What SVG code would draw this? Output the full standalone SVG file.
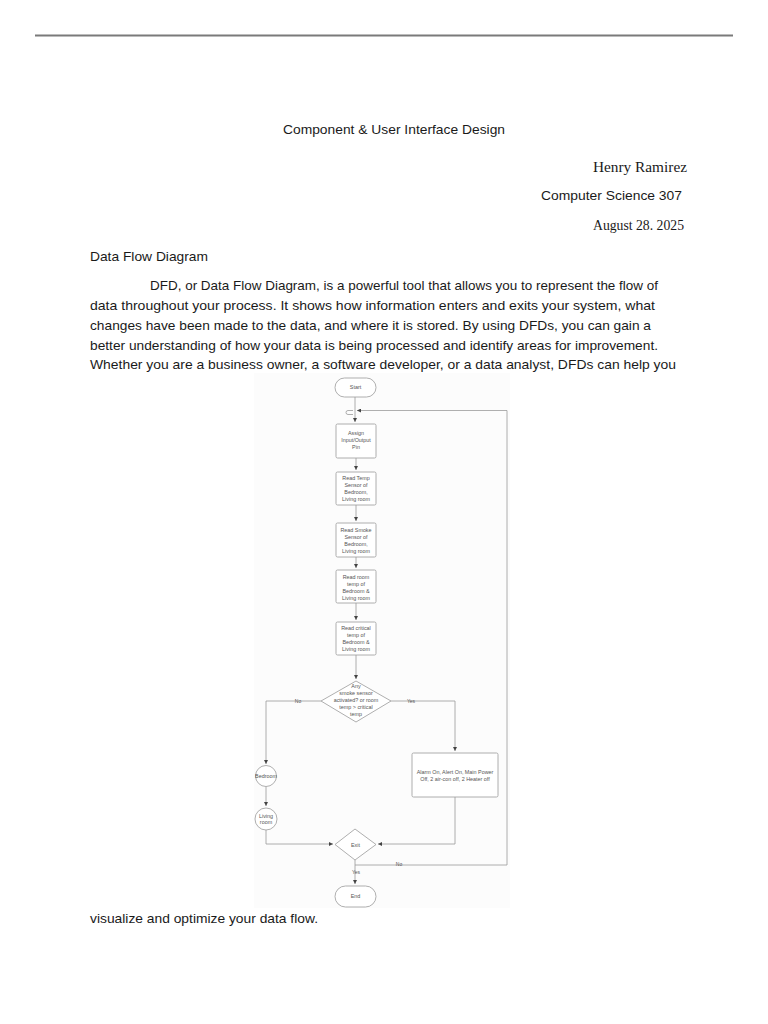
<svg xmlns="http://www.w3.org/2000/svg" width="768" height="1024" viewBox="0 0 768 1024">
<style>
.sans{font-family:"Liberation Sans",Arial,sans-serif;fill:#1a1a1a}
.serif{font-family:"Liberation Serif","Times New Roman",serif;fill:#1a1a1a}
.b{font-size:13.5px}
.node{fill:#fff;stroke:#9a9a9a;stroke-width:0.8}
.nt{font-family:"Liberation Sans",Arial,sans-serif;font-size:5.4px;fill:#555;text-anchor:middle}
.lbl{font-family:"Liberation Sans",Arial,sans-serif;font-size:5px;fill:#555;text-anchor:middle}
.con{fill:none;stroke:#9a9a9a;stroke-width:0.8}
</style>
<defs>
<marker id="ah" viewBox="0 0 6 6" refX="6" refY="3" markerWidth="4" markerHeight="4" markerUnits="userSpaceOnUse" orient="auto">
<path d="M0,0 L6,3 L0,6 Z" fill="#444"/>
</marker>
</defs>
<rect width="768" height="1024" fill="#fff"/>
<line x1="35" y1="35.5" x2="733" y2="35.5" stroke="#7a7a7a" stroke-width="2"/>
<text class="sans b" x="283" y="134" textLength="222" lengthAdjust="spacingAndGlyphs">Component &amp; User Interface Design</text>
<text class="serif" font-size="14.5" x="593" y="172" textLength="94" lengthAdjust="spacingAndGlyphs">Henry Ramirez</text>
<text class="sans b" x="541" y="200" textLength="141" lengthAdjust="spacingAndGlyphs">Computer Science 307</text>
<text class="serif" font-size="14.5" x="593" y="230" textLength="91" lengthAdjust="spacingAndGlyphs">August 28. 2025</text>
<text class="sans b" x="90" y="261" textLength="118" lengthAdjust="spacingAndGlyphs">Data Flow Diagram</text>
<text class="sans b" x="150" y="290" textLength="508" lengthAdjust="spacingAndGlyphs">DFD, or Data Flow Diagram, is a powerful tool that allows you to represent the flow of</text>
<text class="sans b" x="90" y="310" textLength="565" lengthAdjust="spacingAndGlyphs">data throughout your process. It shows how information enters and exits your system, what</text>
<text class="sans b" x="90" y="330" textLength="561" lengthAdjust="spacingAndGlyphs">changes have been made to the data, and where it is stored. By using DFDs, you can gain a</text>
<text class="sans b" x="90" y="350" textLength="568" lengthAdjust="spacingAndGlyphs">better understanding of how your data is being processed and identify areas for improvement.</text>
<text class="sans b" x="90" y="369" textLength="586" lengthAdjust="spacingAndGlyphs">Whether you are a business owner, a software developer, or a data analyst, DFDs can help you</text>
<text class="sans b" x="90" y="923" textLength="228" lengthAdjust="spacingAndGlyphs">visualize and optimize your data flow.</text>

<rect x="254" y="373" width="256" height="535" fill="#fcfcfc"/>

<g id="connectors">
<path class="con" d="M355,397 V422" marker-end="url(#ah)"/>
<path class="con" d="M507,410.5 H357" marker-end="url(#ah)"/>
<path class="con" d="M353,410.5 H348 A2,2 0 0 0 348,414.5 H353"/>
<path class="con" d="M507,410.5 V865 H355"/>
<path class="con" d="M356,458 V470" marker-end="url(#ah)"/>
<path class="con" d="M356,505 V521" marker-end="url(#ah)"/>
<path class="con" d="M356,557 V568" marker-end="url(#ah)"/>
<path class="con" d="M356,603 V620" marker-end="url(#ah)"/>
<path class="con" d="M356,655 V679" marker-end="url(#ah)"/>
<path class="con" d="M321,701 H266 V764" marker-end="url(#ah)"/>
<path class="con" d="M391,701 H455 V751" marker-end="url(#ah)"/>
<path class="con" d="M266,786.5 V806" marker-end="url(#ah)"/>
<path class="con" d="M266,830 V844 H333" marker-end="url(#ah)"/>
<path class="con" d="M455,797 V844 H378" marker-end="url(#ah)"/>
<path class="con" d="M355,860 V884" marker-end="url(#ah)"/>
<text class="lbl" x="298" y="702.5">No</text>
<text class="lbl" x="411" y="702.5">Yes</text>
<text class="lbl" x="399" y="866">No</text>
<text class="lbl" x="356" y="873.5">Yes</text>
</g>

<g id="start">
<rect class="node" x="335" y="378" width="41" height="19" rx="9.5"/>
<text class="nt" x="355.5" y="389">Start</text>
</g>
<g id="assign">
<rect class="node" x="336" y="424" width="40" height="34" rx="1.5"/>
<text class="nt" x="356" y="435">Assign</text>
<text class="nt" x="356" y="442">Input/Output</text>
<text class="nt" x="356" y="449">Pin</text>
</g>
<g id="readTemp">
<rect class="node" x="336" y="472" width="40" height="33" rx="1.5"/>
<text class="nt" x="356" y="480">Read Temp</text>
<text class="nt" x="356" y="487">Sensor of</text>
<text class="nt" x="356" y="494">Bedroom,</text>
<text class="nt" x="356" y="501">Living room</text>
</g>
<g id="readSmoke">
<rect class="node" x="336" y="523" width="40" height="34" rx="1.5"/>
<text class="nt" x="356" y="532">Read Smoke</text>
<text class="nt" x="356" y="539">Sensor of</text>
<text class="nt" x="356" y="546">Bedroom,</text>
<text class="nt" x="356" y="553">Living room</text>
</g>
<g id="readRoom">
<rect class="node" x="336" y="570" width="40" height="33" rx="1.5"/>
<text class="nt" x="356" y="578.5">Read room</text>
<text class="nt" x="356" y="585.5">temp of</text>
<text class="nt" x="356" y="592.5">Bedroom &amp;</text>
<text class="nt" x="356" y="599.5">Living room</text>
</g>
<g id="readCritical">
<rect class="node" x="336" y="622" width="40" height="33" rx="1.5"/>
<text class="nt" x="356" y="630">Read critical</text>
<text class="nt" x="356" y="637">temp of</text>
<text class="nt" x="356" y="644">Bedroom &amp;</text>
<text class="nt" x="356" y="651">Living room</text>
</g>
<g id="decision">
<polygon class="node" points="356,681 391,701 356,722 321,701"/>
<text class="nt" x="356" y="688">Any</text>
<text class="nt" x="356" y="695">smoke sensor</text>
<text class="nt" x="356" y="702">activated? or room</text>
<text class="nt" x="356" y="709">temp &gt; critical</text>
<text class="nt" x="356" y="716">temp</text>
</g>
<g id="alarm">
<rect class="node" x="412" y="753" width="86" height="44" rx="1.5"/>
<text class="nt" x="455" y="774">Alarm On, Alert On, Main Power</text>
<text class="nt" x="455" y="781">Off, 2 air-con off, 2 Heater off</text>
</g>
<g id="bedroom">
<circle class="node" cx="266" cy="776" r="10.5"/>
<text class="nt" x="266" y="778">Bedroom</text>
</g>
<g id="livingroom">
<circle class="node" cx="266" cy="819" r="11"/>
<text class="nt" x="266" y="817.5">Living</text>
<text class="nt" x="266" y="824">room</text>
</g>
<g id="exit">
<polygon class="node" points="355,829 376,844.5 355,860 335,844.5"/>
<text class="nt" x="355.5" y="846.5">Exit</text>
</g>
<g id="end">
<rect class="node" x="335" y="886" width="41" height="21" rx="10.5"/>
<text class="nt" x="355.5" y="898">End</text>
</g>
</svg>
